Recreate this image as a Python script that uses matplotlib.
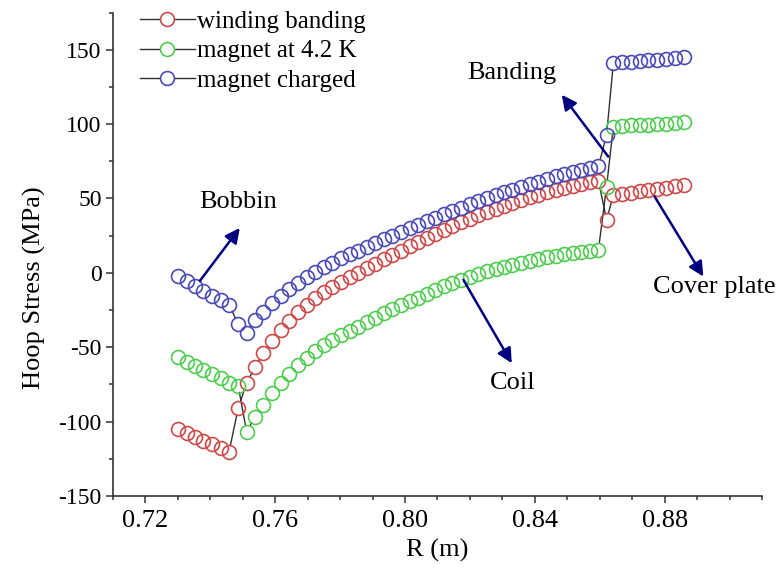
import numpy as np
import matplotlib
matplotlib.use("Agg")
import matplotlib.pyplot as plt
from matplotlib.ticker import MultipleLocator, FormatStrFormatter
from matplotlib.lines import Line2D

plt.rcParams['font.family'] = ['Liberation Serif', 'DejaVu Serif']
plt.rcParams['axes.unicode_minus'] = False

# ---- data (R in m, hoop stress in MPa) ----
bobbin_R = [0.7301, 0.7327, 0.7353, 0.7378, 0.7404, 0.7432, 0.7458]
trans_R = [0.7486, 0.7512]
coil_R = [0.7538, 0.7564, 0.7591, 0.7617, 0.7644, 0.7670, 0.7697, 0.7723, 0.7750, 0.7776,
          0.7803, 0.7829, 0.7855, 0.7882, 0.7908, 0.7935, 0.7961, 0.7988, 0.8014, 0.8041,
          0.8067, 0.8093, 0.8120, 0.8146, 0.8173, 0.8199, 0.8226, 0.8252, 0.8279, 0.8305,
          0.8331, 0.8358, 0.8384, 0.8411, 0.8437, 0.8464, 0.8490, 0.8517, 0.8543, 0.8570,
          0.8596]
band_R = [0.8621]
cover_R = [0.8642, 0.8669, 0.8696, 0.8723, 0.8750, 0.8777, 0.8804, 0.8831, 0.8858]

winding_bobbin = [-105.2, -107.9, -110.5, -113.0, -115.3, -117.7, -120.2]
winding_trans = [-91.0, -74.2]
winding_coil = [-63.0, -54.2, -46.1, -38.6, -32.1, -26.4, -21.4, -17.0, -13.0, -9.4,
                -6.1, -3.1, -0.2, 3.0, 6.1, 9.2, 12.1, 15.0, 17.9, 20.7,
                23.4, 26.1, 28.8, 31.4, 33.9, 36.4, 38.7, 41.0, 43.1, 45.2,
                47.1, 49.0, 50.8, 52.6, 54.2, 55.8, 57.3, 58.7, 59.9, 61.0,
                61.9]
winding_band = [35.6]
winding_cover = [52.4, 53.2, 54.0, 54.8, 55.6, 56.4, 57.2, 58.1, 59.1]

cold_bobbin = [-56.7, -59.7, -62.6, -65.3, -68.0, -70.9, -73.8]
cold_trans = [-76.0, -106.8]
cold_coil = [-96.7, -88.7, -81.1, -74.1, -67.7, -62.1, -57.1, -52.7, -48.7, -45.1,
             -41.9, -38.9, -36.1, -33.1, -30.2, -27.3, -24.5, -21.8, -19.2, -16.6,
             -14.0, -11.5, -9.1, -6.8, -4.5, -2.6, -0.8, 1.0, 2.6, 4.1,
             5.5, 6.9, 8.2, 9.4, 10.5, 11.6, 12.6, 13.5, 14.3, 15.0,
             15.6]
cold_band = [58.0]
cold_cover = [98.4, 98.8, 99.1, 99.4, 99.7, 100.0, 100.4, 100.8, 101.3]

charged_bobbin = [-2.1, -5.2, -8.6, -12.0, -15.3, -18.2, -21.6]
charged_trans = [-34.3, -40.6]
charged_coil = [-32.0, -26.0, -20.4, -15.4, -10.8, -6.6, -2.8, 0.7, 3.9, 6.9,
                9.7, 12.4, 15.0, 17.6, 20.1, 22.6, 25.0, 27.5, 29.9, 32.3,
                34.6, 37.0, 39.3, 41.6, 43.8, 46.0, 48.1, 50.2, 52.2, 54.1,
                56.0, 57.9, 59.7, 61.4, 63.1, 64.8, 66.4, 67.9, 69.3, 70.6,
                71.7]
charged_band = [92.7]
charged_cover = [141.2, 141.7, 142.1, 142.5, 142.9, 143.4, 143.9, 144.6, 145.4]

labels = ["winding banding", "magnet at 4.2 K", "magnet charged"]
colors = ["#cc4a4a", "#4fcc4f", "#4a4ab8"]

R_all = bobbin_R + trans_R + coil_R + band_R + cover_R
series = [
    winding_bobbin + winding_trans + winding_coil + winding_band + winding_cover,
    cold_bobbin + cold_trans + cold_coil + cold_band + cold_cover,
    charged_bobbin + charged_trans + charged_coil + charged_band + charged_cover,
]

fig, ax = plt.subplots(figsize=(7.84, 5.72), dpi=100)
fig.subplots_adjust(left=0.144, right=0.972, bottom=0.133, top=0.978)
ax.set_xlim(0.71, 0.91)
ax.set_ylim(-150, 175)

ms = 10.0
r_px = ms / 72.0 * fig.dpi / 2.0
line_col = "#303030"

for vals, col in zip(series, colors):
    ax.plot(R_all, vals, ls='none', marker='o', ms=ms, mfc='none', mec=col, mew=1.2, zorder=3)
    pts = ax.transData.transform(np.column_stack([R_all, vals]))
    inv = ax.transData.inverted()
    for p0, p1 in zip(pts[:-1], pts[1:]):
        d = p1 - p0
        L = np.hypot(*d)
        if L > 2 * r_px + 0.5:
            u = d / L
            q = inv.transform(np.array([p0 + u * r_px, p1 - u * r_px]))
            ax.plot(q[:, 0], q[:, 1], color=line_col, lw=1.0, zorder=2)

# axes styling
for s in ['top', 'right']:
    ax.spines[s].set_visible(False)
for s in ['left', 'bottom']:
    ax.spines[s].set_linewidth(1.2)
    ax.spines[s].set_color('#333333')
ax.xaxis.set_major_locator(MultipleLocator(0.04))
ax.xaxis.set_minor_locator(MultipleLocator(0.01))
ax.xaxis.set_major_formatter(FormatStrFormatter('%.2f'))
ax.yaxis.set_major_locator(MultipleLocator(50))
ax.yaxis.set_minor_locator(MultipleLocator(25))
ax.tick_params(which='both', direction='out', color='#333333', width=1.1)
ax.tick_params(which='major', length=5)
ax.tick_params(which='minor', length=3)
ax.tick_params(axis='x', labelsize=19, pad=5)
ax.tick_params(axis='y', labelsize=17, pad=3)
ax.set_xlabel("R (m)", fontsize=19)
ax.set_ylabel("Hoop Stress (MPa)", fontsize=19)
ax.xaxis.set_label_coords(0.5, -0.088)
ax.yaxis.set_label_coords(-0.103, 0.43)

# legend
handles = [Line2D([], [], color=line_col, lw=1.0, marker='o', ms=ms, mfc='white', mec=c, mew=1.2)
           for c in colors]
ax.legend(handles, labels, loc='upper left', bbox_to_anchor=(0.0416, 1.004), frameon=False,
          fontsize=18, handlelength=2.2, handletextpad=0.1, labelspacing=0.27,
          borderpad=0.0, borderaxespad=0.0)

# annotations
arrow_kw = dict(arrowstyle='-|>', color='#00007f', lw=1.8, mutation_scale=22, shrinkA=0, shrinkB=0)
ax.annotate("", xy=(0.7491, 30.2), xytext=(0.7368, -5.4), arrowprops=arrow_kw)
ax.text(0.7485, 47.7, "Bobbin", fontsize=19, ha='center', va='center')
ax.annotate("", xy=(0.8329, -60.8), xytext=(0.8180, -4.8), arrowprops=arrow_kw)
ax.text(0.8333, -74, "Coil", fontsize=19, ha='center', va='center')
ax.annotate("", xy=(0.8483, 119.7), xytext=(0.8626, 78.2), arrowprops=arrow_kw)
ax.text(0.8330, 134.4, "Banding", fontsize=19, ha='center', va='center')
ax.annotate("", xy=(0.8919, -2.5), xytext=(0.8769, 51.3), arrowprops=arrow_kw, annotation_clip=False)
ax.text(0.8764, -9.5, "Cover plate", fontsize=19, ha='left', va='center', clip_on=False)

fig.savefig("out.png", dpi=100)
